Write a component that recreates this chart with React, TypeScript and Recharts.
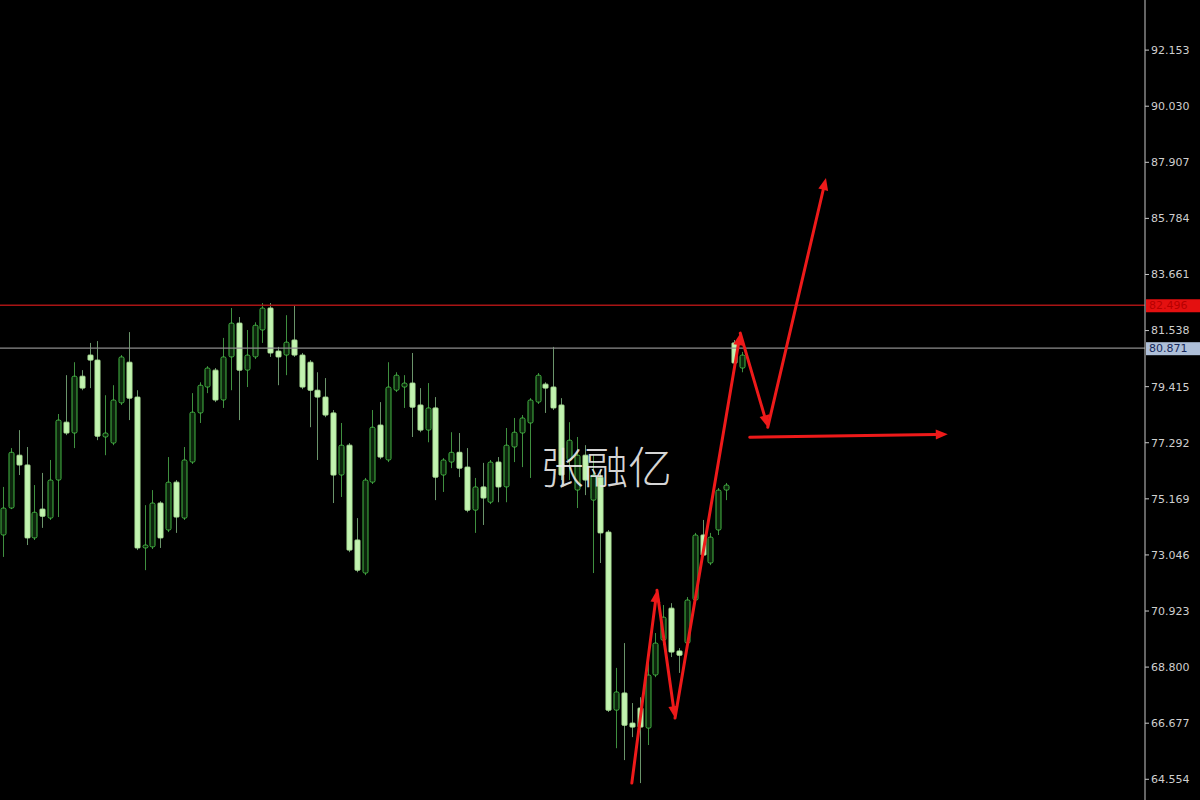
import React from 'react';
import { ComposedChart, Bar, XAxis, YAxis, ReferenceLine } from 'recharts';

// candle prices, left to right
const opens = [
  73.80, 74.82, 76.82, 76.45, 73.69, 74.78, 74.44, 75.88, 78.07, 77.66,
  79.81, 80.61, 80.42, 77.51, 77.28, 78.80, 80.34, 79.02, 73.31, 73.35,
  75.01, 73.99, 75.80, 74.44, 76.56, 78.42, 79.40, 80.04, 78.91, 80.54,
  81.82, 80.04, 80.54, 81.56, 82.39, 80.76, 80.61, 81.18, 80.61, 80.34,
  79.28, 79.02, 78.42, 76.07, 77.20, 73.61, 72.36, 75.80, 77.96, 76.64,
  79.28, 79.40, 79.55, 78.72, 77.77, 78.61, 76.07, 76.56, 76.93, 76.37,
  74.74, 75.62, 75.04, 76.56, 75.62, 77.13, 77.66, 78.04, 78.83, 79.51,
  79.40, 78.72, 76.64, 75.50, 76.82, 75.12, 75.99, 73.91, 67.17, 67.82,
  66.68, 67.25, 66.49, 68.50, 69.82, 71.03, 69.41, 69.71, 71.34, 73.80,
  72.74, 73.99, 75.50, 81.07, 80.12,
];
const highs = [
  75.62, 77.09, 77.77, 77.13, 75.69, 76.15, 76.64, 78.38, 79.85, 80.34,
  80.04, 81.07, 81.14, 79.09, 79.47, 80.61, 81.48, 79.28, 74.93, 75.50,
  75.08, 76.75, 75.88, 77.13, 79.17, 79.58, 80.19, 80.12, 81.26, 82.39,
  82.05, 81.56, 81.85, 82.58, 82.58, 80.92, 82.12, 82.50, 80.69, 80.42,
  79.96, 79.74, 78.53, 78.04, 77.28, 74.44, 75.96, 78.53, 78.83, 80.34,
  79.96, 79.85, 80.69, 79.36, 79.55, 79.02, 76.71, 77.69, 77.66, 77.09,
  75.96, 76.53, 76.64, 76.75, 77.85, 78.23, 78.34, 78.98, 79.93, 79.58,
  80.92, 78.98, 78.07, 77.51, 77.20, 76.82, 76.26, 73.99, 68.77, 69.71,
  67.44, 67.66, 69.52, 70.09, 71.15, 71.22, 69.52, 71.45, 73.88, 74.37,
  73.88, 75.58, 75.77, 81.18, 80.73,
];
const lows = [
  72.97, 74.78, 76.07, 73.42, 73.61, 74.07, 74.37, 74.48, 77.58, 77.09,
  79.28, 79.36, 77.39, 76.82, 77.20, 78.72, 78.15, 73.23, 72.47, 73.27,
  73.31, 73.91, 73.88, 74.37, 76.49, 78.04, 79.17, 78.83, 78.61, 79.28,
  78.15, 79.40, 80.46, 81.07, 80.54, 79.47, 79.85, 80.54, 79.32, 77.88,
  76.64, 78.26, 75.01, 75.24, 73.15, 72.39, 72.28, 75.73, 76.67, 76.56,
  79.21, 78.61, 77.51, 77.69, 77.31, 75.12, 75.43, 76.33, 75.99, 74.66,
  73.88, 74.18, 74.97, 75.04, 75.04, 76.56, 76.37, 75.96, 78.76, 78.42,
  78.53, 75.88, 75.88, 74.82, 75.31, 72.36, 72.74, 67.10, 65.73, 65.28,
  66.15, 64.41, 65.85, 68.42, 69.63, 69.18, 68.58, 69.63, 71.26, 72.97,
  72.66, 73.80, 75.12, 80.04, 79.96,
];
const closes = [
  74.82, 76.93, 76.45, 73.69, 74.66, 74.51, 75.88, 78.15, 77.66, 79.81,
  79.36, 80.42, 77.54, 77.66, 78.91, 80.54, 78.98, 73.31, 73.42, 75.01,
  73.69, 75.80, 74.48, 76.64, 78.45, 79.47, 80.12, 78.91, 80.54, 81.82,
  80.04, 80.61, 81.74, 82.39, 80.69, 80.54, 81.10, 80.61, 79.40, 79.28,
  79.02, 78.34, 76.07, 77.20, 73.23, 72.47, 75.88, 77.88, 76.75, 79.40,
  79.85, 79.55, 78.64, 77.77, 78.61, 75.99, 76.64, 76.93, 76.33, 74.74,
  75.62, 75.20, 76.56, 75.62, 77.20, 77.69, 78.23, 78.91, 79.85, 79.36,
  78.61, 76.07, 77.39, 76.82, 75.88, 76.07, 73.88, 67.17, 67.86, 66.60,
  66.53, 66.53, 68.50, 69.71, 70.69, 69.37, 69.25, 71.34, 73.80, 73.04,
  73.72, 75.50, 75.69, 80.31, 80.61,
];

const yTicks = [92.153, 90.03, 87.907, 85.784, 83.661, 81.538, 79.415, 77.292, 75.169, 73.046, 70.923, 68.8, 66.677, 64.554];

const resistance = 82.496;
const lastPrice = 80.871;

// hand-drawn red arrows: zigzag and flat one (bar index, price)
const zigX = [80.0, 83.2, 85.5, 93.8, 97.3, 104.7];
const zigY = [64.41, 71.71, 66.87, 81.44, 77.88, 87.31];
const flatX = [95.0, 120.2];
const flatY = [77.5, 77.61];

const data = opens.map((o, i) => ({ i, o, h: highs[i], l: lows[i], c: closes[i] }));

const Candle = (props: any) => {
  const { x, y, width, height, payload } = props;
  if (!payload || height == null) return null;
  const { o, h, l, c } = payload;
  const top = Math.min(y, y + height);
  const span = Math.abs(height);
  const range = h - l || 1;
  const py = (v: number) => top + ((h - v) / range) * span;
  const cx = Math.round(x + width / 2) + 0.5;
  const bull = c >= o;
  const bt = py(Math.max(o, c));
  const bb = py(Math.min(o, c));
  const bh = Math.max(bb - bt, 2);
  return (
    <g>
      <line x1={cx} x2={cx} y1={top} y2={top + span} stroke={bull ? '#3f8f3f' : '#6a946a'} strokeWidth={1} />
      <rect
        x={cx - 2.5}
        y={bt}
        width={5}
        height={bh}
        rx={bull ? 1.5 : 0.5}
        fill={bull ? '#0c240c' : '#c2f3b0'}
        stroke={bull ? '#44b844' : '#aee49a'}
        strokeWidth={1}
      />
    </g>
  );
};

const arrowShape = (props: any) => {
  const { x1, y1, x2, y2 } = props;
  const dx = x2 - x1;
  const dy = y2 - y1;
  const len = Math.hypot(dx, dy) || 1;
  const ux = dx / len;
  const uy = dy / len;
  const hl = 12;
  const hw = 5;
  const bx = x2 - ux * hl;
  const by = y2 - uy * hl;
  const pts = `${x2},${y2} ${bx - uy * hw},${by + ux * hw} ${bx + uy * hw},${by - ux * hw}`;
  return (
    <g>
      <line x1={x1} y1={y1} x2={bx} y2={by} stroke="#ee1a1a" strokeWidth={3} strokeLinecap="round" />
      <polygon points={pts} fill="#ee1a1a" />
    </g>
  );
};

const priceTag = (text: string, bg: string, fg: string) => (props: any) => {
  const vb = props.viewBox || {};
  const x = vb.x + vb.width + 1;
  const y = vb.y;
  return (
    <g>
      <rect x={x} y={y - 6} width={54} height={13} fill={bg} />
      <text x={x + 3} y={y + 4} fill={fg} fontSize={11} fontFamily="DejaVu Sans">
        {text}
      </text>
    </g>
  );
};

const segments = zigX.slice(1).map((xv, k) => [
  { x: zigX[k], y: zigY[k] },
  { x: xv, y: zigY[k + 1] },
]);

export default function App() {
  return (
    <div style={{ position: 'absolute', left: 0, top: 0, width: 1200, height: 800, background: '#000' }}>
      <ComposedChart width={1200} height={800} data={data} margin={{ top: 0, right: 0, bottom: 0, left: 0 }}>
        <XAxis dataKey="i" type="number" domain={[-0.38, 145.29]} allowDataOverflow hide />
        <YAxis
          orientation="right"
          width={55}
          domain={[63.77, 94.05]}
          allowDataOverflow
          ticks={yTicks}
          interval={0}
          tickFormatter={(v: number) => v.toFixed(3)}
          tick={{ fill: '#cfcfcf', fontSize: 11, fontFamily: 'DejaVu Sans' }}
          axisLine={{ stroke: '#c8c8c8' }}
          tickLine={{ stroke: '#c8c8c8' }}
          tickSize={4}
        />
        <ReferenceLine y={resistance} stroke="#a81414" strokeWidth={1.5} label={priceTag('82.496', '#e41010', '#b80000')} />
        <ReferenceLine y={lastPrice} stroke="#8c8c8c" strokeWidth={1.2} label={priceTag('80.871', '#aebfd8', '#16285a')} />
        <Bar dataKey={(d: any) => [d.l, d.h]} barSize={6} shape={<Candle />} isAnimationActive={false} />
        {segments.map((seg, k) => (
          <ReferenceLine key={k} segment={seg} ifOverflow="visible" shape={arrowShape} />
        ))}
        <ReferenceLine
          segment={[
            { x: flatX[0], y: flatY[0] },
            { x: flatX[1], y: flatY[1] },
          ]}
          ifOverflow="visible"
          shape={arrowShape}
        />
      </ComposedChart>
      <div
        style={{
          position: 'absolute',
          left: 540,
          top: 443,
          fontSize: 44,
          lineHeight: '44px',
          fontFamily: '"Noto Sans CJK SC"',
          fontWeight: 300,
          color: 'rgba(236,236,236,0.92)',
          pointerEvents: 'none',
        }}
      >
        张融亿
      </div>
    </div>
  );
}
